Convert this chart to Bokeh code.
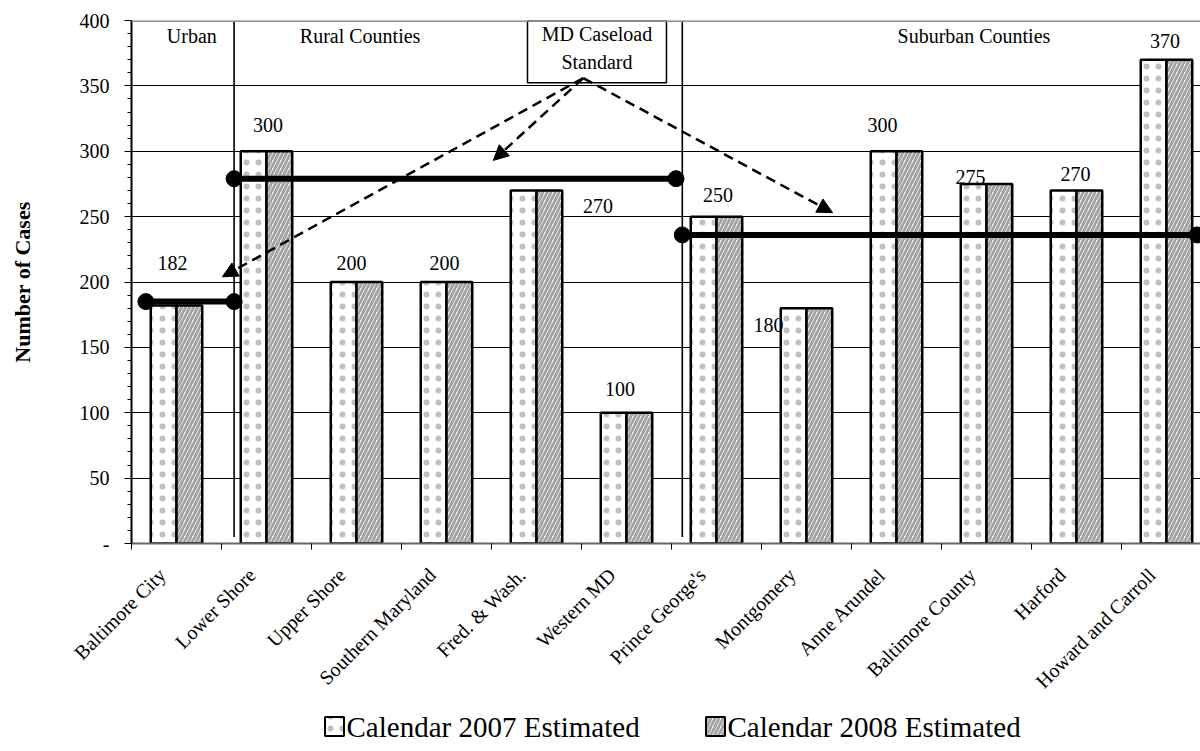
import math

from bokeh.plotting import figure
from bokeh.layouts import column
from bokeh.models import (ColumnDataSource, Range1d, FixedTicker, Arrow, NormalHead, Span)
from bokeh.core.properties import value
from bokeh.embed import file_html
from bokeh.resources import INLINE

# ---- data -------------------------------------------------------------
regions = ["Baltimore City", "Lower Shore", "Upper Shore", "Southern Maryland",
           "Fred. & Wash.", "Western MD", "Prince George's", "Montgomery",
           "Anne Arundel", "Baltimore County", "Harford", "Howard and Carroll"]
cal_2007 = [182, 300, 200, 200, 270, 100, 250, 180, 300, 275, 270, 370]
cal_2008 = [182, 300, 200, 200, 270, 100, 250, 180, 300, 275, 270, 370]
series_names = ["Calendar 2007 Estimated", "Calendar 2008 Estimated"]

# caseload standard of each region group and the stretch of categories it spans
groups = ["Urban", "Rural Counties", "Suburban Counties"]
group_standard = [185, 279, 236]
group_start = [0.16, 1.14, 6.12]
group_end = [1.14, 6.05, 11.84]
group_divider = [1.14, 6.12]
group_label_x = [0.67, 2.54, 9.36]

# note box and the dashed arrows pointing from it to each standard line
note_lines = ["MD Caseload", "Standard"]
note_left, note_right, note_bottom = 4.40, 5.944, 352.4
arrow_from = (5.02, 356)
arrow_tip_x = [1.01, 4.02, 7.79]
arrow_tip_y = [204, 293, 253]

# pixel nudges of the value labels, relative to the top centre of each pair
label_dx = [-4, 1.5, -5, -2, 61.5, -6.5, 1.5, -38, -14, -16, -1, -1.5]
label_dy = [-43, -26, -19, -19.5, 15.5, -24, -22, 17, -26, -7, -16, -19]

FONT = "Liberation Serif"
n = len(regions)
centers = [i + 0.5 for i in range(n)]
bar_w = 0.286
label_shift = 0.16          # slanted category names sit a little left of centre

DOTS = dict(hatch_pattern=".", hatch_color="#c0c0c0", hatch_scale=12, hatch_weight=0.6)
STRIPES = dict(hatch_pattern="/", hatch_color="#a4a4a4", hatch_scale=8, hatch_weight=3)

p = figure(width=1200, height=710,
           x_range=Range1d(0, 1069 / 90), y_range=Range1d(0, 400),
           output_backend="svg", toolbar_location=None,
           min_border_left=131, min_border_right=0,
           min_border_top=20, min_border_bottom=167)
p.outline_line_color = None
p.background_fill_color = "white"
p.border_fill_color = "white"

# ---- bars ---------------------------------------------------------------
src = ColumnDataSource(dict(
    x07=[c - bar_w / 2 for c in centers],
    x08=[c + bar_w / 2 for c in centers],
    v07=cal_2007, v08=cal_2008))

p.vbar(x="x07", top="v07", bottom=0, width=bar_w, source=src,
       fill_color="white", line_color="black", line_width=2.5, **DOTS)
p.vbar(x="x08", top="v08", bottom=0, width=bar_w, source=src,
       fill_color="white", line_color="black", line_width=2.5, **STRIPES)

# ---- group dividers and standards ----------------------------------------
p.segment(x0=group_divider, y0=[5] * 2, x1=group_divider, y1=[400] * 2,
          line_color="black", line_width=1.6)
p.segment(x0=group_start, y0=group_standard, x1=group_end, y1=group_standard,
          line_color="black", line_width=6)
p.scatter(x=group_start + group_end, y=group_standard + group_standard,
          size=16, color="black")

p.text(x=group_label_x, y=[388] * 3, text=groups,
       text_font=value(FONT), text_font_size="20px",
       text_align="center", text_baseline="middle", text_color="black")

# ---- note box with arrows ------------------------------------------------
p.quad(left=[note_left], right=[note_right], top=[400], bottom=[note_bottom],
       fill_color="white", line_color="black", line_width=1.5)
p.text(x=[(note_left + note_right) / 2] * 2, y=[390, 368], text=note_lines,
       text_font=value(FONT), text_font_size="20px",
       text_align="center", text_baseline="middle", text_color="black")
for tx, ty in zip(arrow_tip_x, arrow_tip_y):
    p.add_layout(Arrow(x_start=arrow_from[0], y_start=arrow_from[1],
                       x_end=tx, y_end=ty, line_color="black", line_width=2.5,
                       line_dash="10 6",
                       end=NormalHead(size=15, fill_color="black",
                                      line_color="black", line_width=1)))

# ---- value labels --------------------------------------------------------
p.text(x=centers, y=cal_2008, text=[str(v) for v in cal_2008],
       x_offset=label_dx, y_offset=label_dy,
       text_font=value(FONT), text_font_size="20px",
       text_align="center", text_baseline="middle", text_color="black")

# ---- axes ------------------------------------------------------------------
yax = p.yaxis[0]
yax.ticker = FixedTicker(ticks=list(range(0, 401, 50)),
                         minor_ticks=list(range(0, 401, 10)))
yax.major_label_overrides = {0: "-"}
yax.major_label_text_font = FONT
yax.major_label_text_font_size = "20px"
yax.major_label_text_color = "black"
yax.major_label_standoff = 15
yax.axis_line_color = "black"
yax.axis_line_width = 2
yax.major_tick_in = 0
yax.major_tick_out = 7
yax.minor_tick_in = 0
yax.minor_tick_out = 4
yax.major_tick_line_color = "black"
yax.minor_tick_line_color = "black"
yax.axis_label = "Number of Cases"
yax.axis_label_text_font = FONT
yax.axis_label_text_font_size = "22px"
yax.axis_label_text_font_style = "bold"
yax.axis_label_text_color = "black"
yax.axis_label_standoff = 42

label_ticks = [c - label_shift for c in centers]
xax = p.xaxis[0]
xax.ticker = FixedTicker(ticks=label_ticks, minor_ticks=list(range(n + 1)))
xax.major_label_overrides = {t: r for t, r in zip(label_ticks, regions)}
xax.major_label_orientation = math.pi / 4
xax.major_label_text_font = FONT
xax.major_label_text_font_size = "20px"
xax.major_label_text_color = "black"
xax.major_label_standoff = 22
xax.major_tick_line_color = None
xax.minor_tick_in = 0
xax.minor_tick_out = 6
xax.minor_tick_line_color = "black"
xax.axis_line_color = "#666666"
xax.axis_line_width = 2

p.xgrid.visible = False
p.ygrid.grid_line_color = "black"
p.ygrid.grid_line_width = 1
p.add_layout(Span(location=400, dimension="width", line_color="#8c8c8c", line_width=3))

# ---- legend strip underneath (its frame lines up with the chart's) --------
leg = figure(width=1200, height=41, x_range=Range1d(131, 1200), y_range=Range1d(0, 41),
             output_backend="svg", toolbar_location=None,
             x_axis_type=None, y_axis_type=None, min_border=0)
leg.outline_line_color = None
leg.xgrid.visible = False
leg.ygrid.visible = False
swatch_x = [334, 715]
leg.rect(x=[swatch_x[0]], y=[25], width=19, height=19, fill_color="white",
         line_color="black", line_width=2, **DOTS)
leg.rect(x=[swatch_x[1]], y=[25], width=19, height=19, fill_color="white",
         line_color="black", line_width=2, **STRIPES)
leg.text(x=[sx + 12 for sx in swatch_x], y=[25, 25], text=series_names,
         text_font=value(FONT), text_font_size="29px", text_color="black",
         text_align="left", text_baseline="middle")

open("out.html", "w").write(file_html(column(p, leg, spacing=0), INLINE))
